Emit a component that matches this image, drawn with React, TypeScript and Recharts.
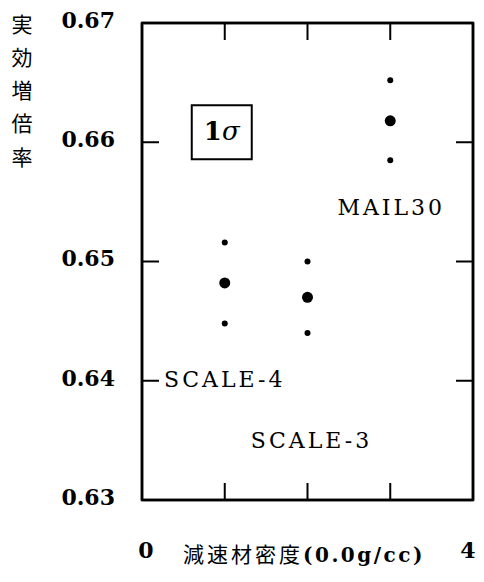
import { ScatterChart, Scatter, XAxis, YAxis, ReferenceDot, ReferenceArea } from 'recharts'

// 減速材密度 0.0g/cc での実効増倍率（中心値と ±1σ）
const positions = [1, 2, 3]
const codes = ['SCALE-4', 'SCALE-3', 'MAIL30']
const keff = [0.6482, 0.647, 0.6618]
const keffUpper = [0.6516, 0.65, 0.6652]
const keffLower = [0.6448, 0.644, 0.6585]
const xTicks = [0, 1, 2, 3, 4]
const yTicks = [0.63, 0.64, 0.65, 0.66, 0.67]
const yTitle = ['実', '効', '増', '倍', '率']

const toPoints = (vals: number[]) => positions.map((x, i) => ({ x, y: vals[i] }))
const centerPts = toPoints(keff)
const upperPts = toPoints(keffUpper)
const lowerPts = toPoints(keffLower)

// code label offset (px) from the lower 1σ point
const labelOffset = [
  [0, 63],
  [4, 115],
  [1, 55],
]

const SERIF = '"DejaVu Serif", "Liberation Serif", serif'
const CJK = '"Noto Sans CJK JP", "Noto Sans CJK SC", sans-serif'
const TICK_LEN = 17
const inner = (v: number, lo: number, hi: number) => v > lo + 1e-9 && v < hi - 1e-9

const BottomTick = (p: any) => {
  const v = p.payload.value
  return (
    <g>
      {inner(v, 0, 4) && <line x1={p.x} x2={p.x} y1={p.y} y2={p.y - TICK_LEN} stroke="#000" strokeWidth={2} />}
      {(v === 0 || v === 4) && (
        <text x={p.x + (v === 0 ? 4 : -5)} y={p.y + 58} textAnchor="middle" fontFamily={SERIF} fontWeight="bold" fontSize={22} fill="#000">
          {v}
        </text>
      )}
    </g>
  )
}

const TopTick = (p: any) =>
  inner(p.payload.value, 0, 4) ? <line x1={p.x} x2={p.x} y1={p.y} y2={p.y + TICK_LEN} stroke="#000" strokeWidth={2} /> : <g />

const LeftTick = (p: any) => {
  const v = p.payload.value
  return (
    <g>
      {inner(v, 0.63, 0.67) && <line x1={p.x} x2={p.x + TICK_LEN} y1={p.y} y2={p.y} stroke="#000" strokeWidth={2} />}
      <text x={p.x - 27} y={p.y - 3} dy="0.36em" textAnchor="end" fontFamily={SERIF} fontWeight="bold" fontSize={22} fill="#000">
        {v.toFixed(2)}
      </text>
    </g>
  )
}

const RightTick = (p: any) =>
  inner(p.payload.value, 0.63, 0.67) ? <line x1={p.x} x2={p.x - TICK_LEN} y1={p.y} y2={p.y} stroke="#000" strokeWidth={2} /> : <g />

const XTitle = ({ viewBox }: any) => (
  <text x={viewBox.x + 41} y={viewBox.y + 62} fill="#000">
    <tspan fontFamily={CJK} fontSize={21} letterSpacing={3}>
      減速材密度
    </tspan>
    <tspan fontFamily={SERIF} fontWeight="bold" fontSize={20} letterSpacing={2.5}>
      (0.0g/cc)
    </tspan>
  </text>
)

const YTitle = ({ viewBox }: any) => (
  <g>
    {yTitle.map((ch, i) => (
      <text key={ch} x={viewBox.x + 14} y={viewBox.y + 1 + i * 33.3} dy="0.36em" textAnchor="middle" fontFamily={CJK} fontSize={21} fill="#000">
        {ch}
      </text>
    ))}
  </g>
)

const axisLine = { stroke: '#000', strokeWidth: 2.5 }

export default function App() {
  return (
    <ScatterChart width={468} height={566} margin={{ top: 0, right: 0, bottom: 0, left: 0 }}>
      <XAxis
        xAxisId="x"
        type="number"
        dataKey="x"
        domain={[0, 4]}
        ticks={xTicks}
        interval={0}
        height={74}
        tickSize={0}
        tickMargin={0}
        tickLine={false}
        axisLine={axisLine}
        tick={<BottomTick />}
        label={{ content: (props: any) => <XTitle {...props} /> }}
      />
      <XAxis
        xAxisId="xt"
        orientation="top"
        type="number"
        dataKey="x"
        domain={[0, 4]}
        ticks={xTicks}
        interval={0}
        height={15}
        tickSize={0}
        tickMargin={0}
        tickLine={false}
        axisLine={axisLine}
        tick={<TopTick />}
      />
      <YAxis
        yAxisId="y"
        type="number"
        dataKey="y"
        domain={[0.63, 0.67]}
        ticks={yTicks}
        interval={0}
        width={134}
        tickSize={0}
        tickMargin={0}
        tickLine={false}
        axisLine={axisLine}
        tick={<LeftTick />}
        label={{ content: (props: any) => <YTitle {...props} /> }}
      />
      <YAxis
        yAxisId="yt"
        orientation="right"
        type="number"
        dataKey="y"
        domain={[0.63, 0.67]}
        ticks={yTicks}
        interval={0}
        width={3}
        tickSize={0}
        tickMargin={0}
        tickLine={false}
        axisLine={axisLine}
        tick={<RightTick />}
      />
      {/* plot frame, closes the corners */}
      <ReferenceArea
        xAxisId="x"
        yAxisId="y"
        x1={0}
        x2={4}
        y1={0.63}
        y2={0.67}
        fill="none"
        stroke="#000"
        strokeWidth={2.5}
        ifOverflow="visible"
      />
      <Scatter
        xAxisId="x"
        yAxisId="y"
        data={centerPts}
        isAnimationActive={false}
        shape={(p: any) => <circle cx={p.cx} cy={p.cy} r={5.5} fill="#000" />}
      />
      {/* upper 1σ points sit on the top/right axes (same domains) so those axes are drawn */}
      <Scatter
        xAxisId="xt"
        yAxisId="yt"
        data={upperPts}
        isAnimationActive={false}
        shape={(p: any) => <circle cx={p.cx} cy={p.cy} r={3} fill="#000" />}
      />
      <Scatter
        xAxisId="x"
        yAxisId="y"
        data={lowerPts}
        isAnimationActive={false}
        shape={(p: any) => <circle cx={p.cx} cy={p.cy} r={3} fill="#000" />}
      />
      {codes.map((name, i) => (
        <ReferenceDot
          key={name}
          xAxisId="x"
          yAxisId="y"
          x={positions[i]}
          y={keffLower[i]}
          r={0}
          shape={(p: any) => (
            <text
              x={p.cx + labelOffset[i][0]}
              y={p.cy + labelOffset[i][1]}
              textAnchor="middle"
              fontFamily={SERIF}
              fontSize={22}
              letterSpacing={3}
              fill="#000"
            >
              {name}
            </text>
          )}
        />
      ))}
      {/* 1σ の枠 */}
      <ReferenceDot
        xAxisId="x"
        yAxisId="y"
        x={1}
        y={0.66}
        r={0}
        shape={(p: any) => (
          <g>
            <rect x={p.cx - 33} y={p.cy - 37} width={60} height={54} fill="none" stroke="#000" strokeWidth={2} />
            <text x={p.cx - 3} y={p.cy - 2} textAnchor="middle" fontFamily={SERIF} fontSize={26} fill="#000">
              <tspan fontWeight="bold">1</tspan>
              <tspan fontStyle="italic">σ</tspan>
            </text>
          </g>
        )}
      />
    </ScatterChart>
  )
}
